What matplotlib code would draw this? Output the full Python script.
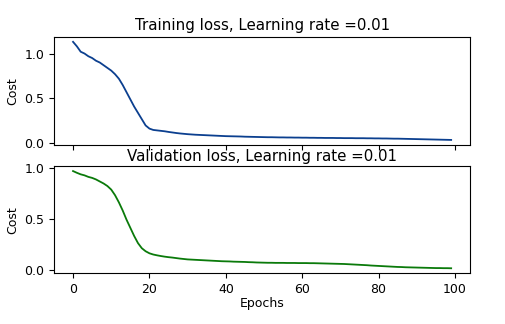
import numpy as np
import matplotlib.pyplot as plt

epochs = np.arange(100)

train_cost = [
    1.13, 1.08, 1.02, 1.00, 0.97, 0.95, 0.92, 0.90, 0.87, 0.84,
    0.81, 0.77, 0.72, 0.65, 0.57, 0.49, 0.41, 0.34, 0.27, 0.20,
    0.165, 0.150, 0.145, 0.140, 0.135, 0.128, 0.122, 0.116, 0.111, 0.107,
    0.103, 0.100, 0.097, 0.095, 0.093, 0.091, 0.089, 0.087, 0.085, 0.083,
    0.081, 0.080, 0.079, 0.078, 0.077, 0.075, 0.074, 0.073, 0.072, 0.071,
    0.070, 0.069, 0.069, 0.068, 0.067, 0.067, 0.066, 0.066, 0.065, 0.065,
    0.064, 0.064, 0.063, 0.063, 0.062, 0.062, 0.061, 0.061, 0.061, 0.060,
    0.060, 0.059, 0.059, 0.059, 0.058, 0.058, 0.058, 0.057, 0.057, 0.056,
    0.056, 0.055, 0.055, 0.054, 0.053, 0.053, 0.052, 0.051, 0.050, 0.049,
    0.048, 0.047, 0.046, 0.045, 0.044, 0.043, 0.042, 0.041, 0.040, 0.039,
]

val_cost = [
    0.967, 0.950, 0.935, 0.925, 0.910, 0.900, 0.885, 0.865, 0.845, 0.820,
    0.785, 0.730, 0.660, 0.580, 0.490, 0.410, 0.330, 0.260, 0.210, 0.180,
    0.160, 0.148, 0.140, 0.133, 0.127, 0.122, 0.118, 0.113, 0.108, 0.104,
    0.100, 0.098, 0.096, 0.094, 0.092, 0.090, 0.088, 0.086, 0.084, 0.082,
    0.081, 0.080, 0.078, 0.077, 0.076, 0.075, 0.073, 0.072, 0.070, 0.069,
    0.068, 0.067, 0.067, 0.066, 0.066, 0.066, 0.065, 0.065, 0.065, 0.064,
    0.064, 0.064, 0.063, 0.063, 0.062, 0.061, 0.060, 0.059, 0.058, 0.057,
    0.056, 0.055, 0.053, 0.051, 0.049, 0.047, 0.045, 0.043, 0.040, 0.038,
    0.036, 0.034, 0.032, 0.030, 0.028, 0.026, 0.025, 0.023, 0.022, 0.021,
    0.020, 0.019, 0.018, 0.017, 0.016, 0.015, 0.015, 0.014, 0.014, 0.013,
]

fig = plt.figure(figsize=(5.06, 3.24), dpi=100)
ax_train = fig.add_axes([0.107, 0.553, 0.822, 0.333])
ax_val = fig.add_axes([0.107, 0.157, 0.822, 0.330], sharex=ax_train)

# training loss (top)
ax_train.plot(epochs, train_cost, color="#0b3f8f", lw=1.3)
ax_train.set_title("Training loss, Learning rate =0.01", fontsize=10.8, pad=5)
ax_train.set_ylabel("Cost", fontsize=9)
ax_train.tick_params(labelbottom=False, labelsize=9)

# validation loss (bottom)
ax_val.plot(epochs, val_cost, color="#0a7a0a", lw=1.3)
ax_val.set_title("Validation loss, Learning rate =0.01", fontsize=10.8, pad=4)
ax_val.set_ylabel("Cost", fontsize=9)
ax_val.set_xlabel("Epochs", fontsize=9, labelpad=1)
ax_val.tick_params(labelsize=9)
ax_val.set_xticks([0, 20, 40, 60, 80, 100])

fig.savefig("out.png", dpi=100)
